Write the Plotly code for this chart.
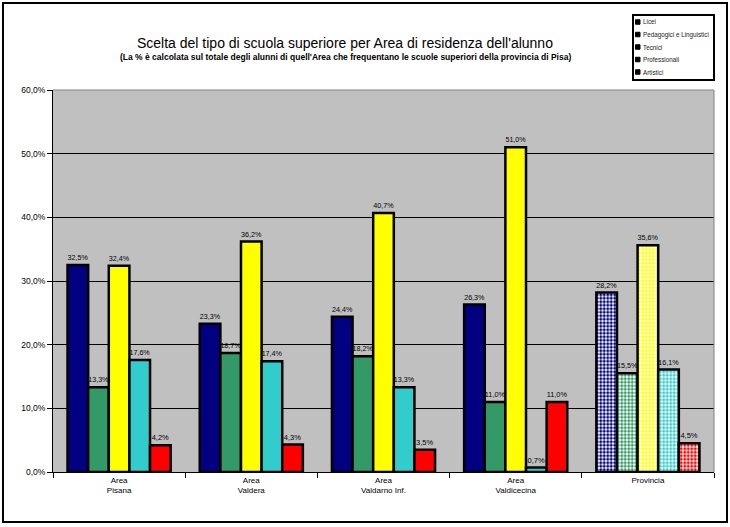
import plotly.graph_objects as go

categories = ["Area<br>Pisana", "Area<br>Valdera", "Area<br>Valdarno Inf.", "Area<br>Valdicecina", "Provincia"]
series_names = ["Licei", "Pedagogici e Linguistici", "Tecnici", "Professionali", "Artistici"]
licei = [32.5, 23.3, 24.4, 26.3, 28.2]
pedagogici = [13.3, 18.7, 18.2, 11.0, 15.5]
tecnici = [32.4, 36.2, 40.7, 51.0, 35.6]
professionali = [17.6, 17.4, 13.3, 0.7, 16.1]
artistici = [4.2, 4.3, 3.5, 11.0, 4.5]
colors = ["#000080", "#339966", "#FFFF00", "#33CCCC", "#FF0000"]
ytickvals = [0, 10, 20, 30, 40, 50, 60]
yticktext = ["0,0%", "10,0%", "20,0%", "30,0%", "40,0%", "50,0%", "60,0%"]

W, H = 730, 527
ml, mr, mt, mb = 53, 16, 90, 55
pw, ph = W - ml - mr, H - mt - mb

def px(x):
    return (x - ml) / pw

def py(y):
    return (H - mb - y) / ph

fig = go.Figure()
for name, vals, col in zip(series_names, [licei, pedagogici, tecnici, professionali, artistici], colors):
    fig.add_trace(go.Bar(
        name=name, x=categories, y=vals,
        marker=dict(
            color=col,
            line=dict(color="black", width=2.5),
            pattern=dict(shape=["", "", "", "", "."], fgcolor=col, bgcolor="white",
                         size=3.5, solidity=0.55, fillmode="replace"),
        ),
        texttemplate="%{y:.1f}%", textposition="outside",
        textfont=dict(size=7.5, color="black", family="Arial"),
        cliponaxis=False,
        showlegend=False,
    ))

annotations = [
    dict(text="Scelta del tipo di scuola superiore per Area di residenza dell'alunno",
         x=px(345), y=py(33), xref="paper", yref="paper", showarrow=False,
         font=dict(size=14, family="Arial")),
    dict(text="<b>(La % è calcolata sul totale degli alunni di quell'Area che frequentano le scuole superiori della provincia di Pisa)</b>",
         x=px(345), y=py(50), xref="paper", yref="paper", showarrow=False,
         font=dict(size=8.5, family="Arial")),
]
shapes = [
    dict(type="rect", xref="paper", yref="paper", x0=px(3), x1=px(727), y0=py(522), y1=py(3),
         line=dict(color="black", width=2)),
    dict(type="line", xref="paper", yref="paper", x0=1, x1=1, y0=0, y1=1,
         line=dict(color="#808080", width=1)),
    dict(type="line", xref="paper", yref="paper", x0=0, x1=1, y0=1, y1=1,
         line=dict(color="#808080", width=1)),
    dict(type="rect", xref="paper", yref="paper", x0=px(633), x1=px(714), y0=py(80), y1=py(15),
         line=dict(color="black", width=2), fillcolor="white"),
]
item_y = [22, 34.5, 47, 59.5, 72]
for name, col, yy in zip(series_names, colors, item_y):
    shapes.append(dict(type="rect", xref="paper", yref="paper",
                       x0=px(635.5), x1=px(640), y0=py(yy + 2.25), y1=py(yy - 2.25),
                       line=dict(color="black", width=1), fillcolor="black"))
    annotations.append(dict(text=name, x=px(641), y=py(yy), xref="paper", yref="paper",
                            xanchor="left", yanchor="middle", showarrow=False,
                            font=dict(size=6.3, family="Arial", color="#222222")))

fig.update_layout(
    width=W, height=H,
    margin=dict(l=ml, r=mr, t=mt, b=mb),
    paper_bgcolor="white", plot_bgcolor="#C0C0C0",
    barmode="group", bargap=0.22, bargroupgap=0,
    separators=",.",
    font=dict(family="Arial", color="black"),
    showlegend=False,
    xaxis=dict(showgrid=False, tickson="boundaries", ticks="outside", ticklen=5,
               tickcolor="black", showline=True, linecolor="black", linewidth=1,
               tickfont=dict(size=8)),
    yaxis=dict(range=[0, 60], tickvals=ytickvals, ticktext=yticktext,
               showgrid=True, gridcolor="black", gridwidth=1,
               ticks="outside", ticklen=5, tickcolor="black",
               showline=True, linecolor="black", linewidth=1,
               tickfont=dict(size=8.5), zeroline=False),
    annotations=annotations,
    shapes=shapes,
)

fig.write_html("out.html", config={"displayModeBar": False},
               post_script="document.body.style.margin='0';")
